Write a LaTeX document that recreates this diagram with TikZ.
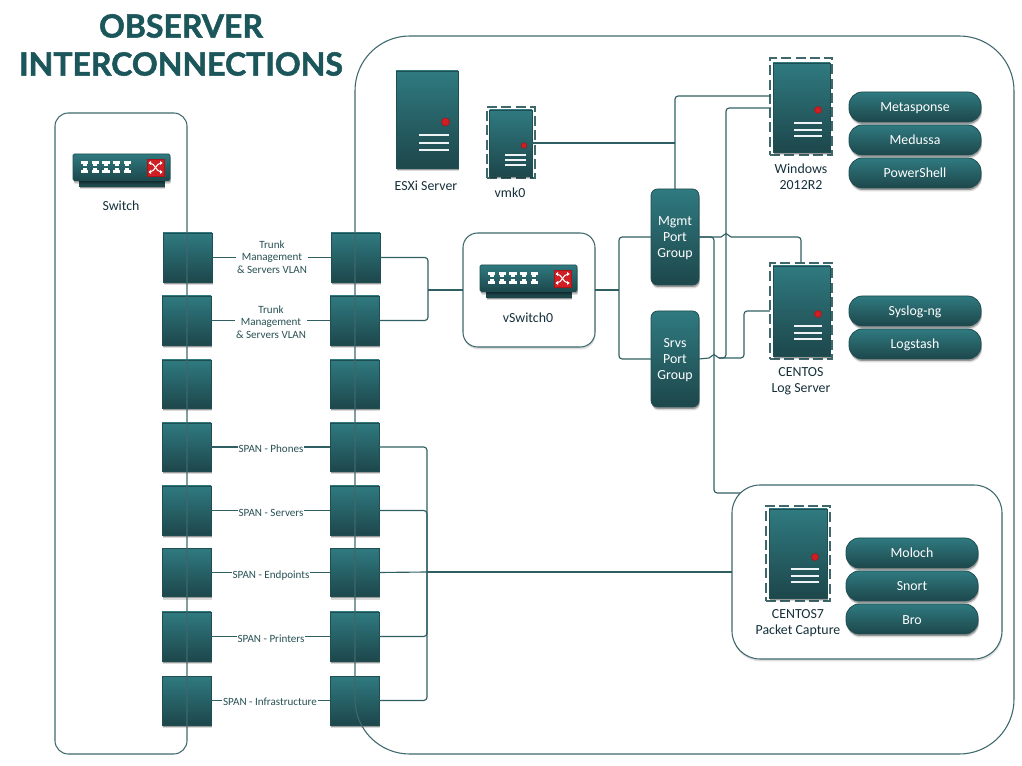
\documentclass[tikz,border=0pt]{standalone}
\usepackage{fontspec}
\setmainfont{Carlito}
\newfontfamily\titlefont{Lato}[BoldFeatures={FakeBold=1.6}]
\usetikzlibrary{shadows}
\definecolor{tealtop}{HTML}{2F7A80}
\definecolor{tealbot}{HTML}{1D474B}
\definecolor{tealedge}{HTML}{1E4E52}
\definecolor{wirecol}{HTML}{2F5F63}
\definecolor{panelcol}{HTML}{3E686C}
\definecolor{titlecol}{HTML}{1B565B}
\definecolor{labelcol}{HTML}{15303A}
\definecolor{redtop}{HTML}{CF1F25}
\definecolor{redbot}{HTML}{A81418}
\tikzset{
  softshadow/.style={
    drop shadow={shadow xshift=0.7pt,shadow yshift=-2.6pt,opacity=.14,fill=black},
    drop shadow={shadow xshift=0.5pt,shadow yshift=-1.5pt,opacity=.30,fill=black}},
  tealbox/.style={draw=tealedge,line width=.6pt,top color=tealtop,bottom color=tealbot,softshadow,inner sep=0pt,outer sep=0pt,text=white,align=center,font=\fontsize{10.4pt}{12pt}\selectfont},
  portbox/.style={tealbox,rectangle},
  groupbox/.style={tealbox,rounded corners=5pt},
  pillbox/.style={tealbox,rounded corners=10pt,text height=9.5pt,text depth=2pt},
  dashbox/.style={draw=panelcol,dash pattern=on 7.5pt off 3.2pt,line width=1pt,inner sep=0pt,outer sep=0pt},
  panelbox/.style={draw=panelcol,line width=.8pt,inner sep=0pt,outer sep=0pt},
  whitebox/.style={panelbox,fill=white,drop shadow={shadow xshift=0.4pt,shadow yshift=-1.8pt,opacity=.12,fill=black}},
  wire/.style={draw=wirecol,line width=.85pt,rounded corners=2.4pt},
  hopwire/.style={draw=wirecol,line width=.85pt},
  lbl/.style={text=labelcol,align=center,inner sep=0pt,outer sep=0pt,font=\fontsize{10.4pt}{12pt}\selectfont},
  linklbl/.style={text=wirecol!85!black,align=center,fill=white,inner sep=.6pt,outer sep=0pt,font=\fontsize{8.3pt}{9.5pt}\selectfont},
  titletext/.style={text=titlecol,inner sep=0pt,font=\titlefont\fontsize{24pt}{28pt}\selectfont\bfseries},
  reddot/.style={fill=redtop,draw=redbot,line width=.4pt},
  ledline/.style={draw=white!92!tealtop,line width=1.1pt},
}
% name x1 y1 x2 y2 style text
\newcommand\nd[7]{\node[#6,minimum width={(#4-#2)*0.75pt},minimum height={(#5-#3)*0.75pt},at={({(#2+#4)/2},{(#3+#5)/2})}] (#1) {#7};}
% dotx doty r x1 x2 y1 y2 y3
\newcommand\srvdeco[8]{\fill[reddot] (#1,#2) circle[radius=#3*0.75pt];
  \draw[ledline] (#4,#6) -- (#5,#6) (#4,#7) -- (#5,#7) (#4,#8) -- (#5,#8);}
% name x y : icon origin is the top left corner of the body
\newcommand\swicon[3]{\begin{scope}[shift={(#2,#3)}]
  \nd{#1base}{6}{24}{91}{32}{tealbox,draw=tealbot,top color=tealbot,bottom color=tealbot}{}
  \nd{#1}{0}{0}{97}{26.5}{tealbox,rounded corners=1pt}{}
  \foreach \pa in {8,18.6,29.3,40,50.7}{
    \fill[white] (\pa,7) rectangle ++(7.2,3);
    \fill[white] (\pa+1.5,10) rectangle ++(4.2,2);
    \fill[white] (\pa+1.5,14) rectangle ++(4.2,2);
    \fill[white] (\pa,16) rectangle ++(7.2,3);
  }
  \nd{#1x}{74}{5}{91}{22}{draw=redbot,fill=redtop,line width=.4pt,inner sep=0pt}{}
  \draw[white,line width=.8pt,rounded corners=1.5pt] (76,9) -- (79,9) -- (86,18) -- (89,18);
  \draw[white,line width=.8pt,rounded corners=1.5pt] (76,18) -- (79,18) -- (86,9) -- (89,9);
  \fill[white] (89.5,9) -- (87,7) -- (87,11) -- cycle;
  \fill[white] (89.5,18) -- (87,16) -- (87,20) -- cycle;
  \fill[white] (75.5,9) -- (78,7) -- (78,11) -- cycle;
  \fill[white] (75.5,18) -- (78,16) -- (78,20) -- cycle;
\end{scope}}
\begin{document}
\begin{tikzpicture}[x=0.75pt,y=-0.75pt]
\useasboundingbox (0,0) rectangle (1022,766);

% title
\node[titletext] (t1) at (181,26) {OBSERVER};
\node[titletext] (t2) at (181,64) {INTERCONNECTIONS};

% ports
\nd{pla}{163}{233}{212}{282}{portbox}{}
\nd{plb}{162}{296}{211}{345}{portbox}{}
\nd{plc}{162}{360}{211}{408}{portbox}{}
\nd{pld}{162}{423}{211}{471}{portbox}{}
\nd{ple}{162}{486}{211}{535}{portbox}{}
\nd{plf}{162}{548.5}{211}{596.5}{portbox}{}
\nd{plg}{162}{612}{211}{661}{portbox}{}
\nd{plh}{162}{676}{211}{725}{portbox}{}
\nd{pra}{331}{233}{380}{282}{portbox}{}
\nd{prb}{330}{296}{379}{345}{portbox}{}
\nd{prc}{330}{360}{379}{408}{portbox}{}
\nd{prd}{330}{423}{379}{471}{portbox}{}
\nd{pre}{330}{486}{379}{535}{portbox}{}
\nd{prf}{330}{548.5}{379}{596.5}{portbox}{}
\nd{prg}{330}{612}{379}{661}{portbox}{}
\nd{prh}{330}{676}{379}{725}{portbox}{}

% large panels
\nd{swpanel}{55}{113}{187}{754}{panelbox,rounded corners=10pt}{}
\nd{esxpanel}{355}{36}{1014}{754}{panelbox,rounded corners=41pt}{}

% vSwitch group box
\nd{vswbox}{463}{233}{595}{347}{whitebox,rounded corners=11pt}{}

% servers
\nd{esx}{396}{71}{458}{168}{portbox}{}
\srvdeco{445.5}{122}{4}{419}{449}{135}{143}{150}
\nd{vmkd}{487}{107}{535}{178}{dashbox}{}
\nd{vmk}{489.5}{110}{532}{176}{portbox}{}
\srvdeco{524}{145.5}{2.8}{505}{526}{155}{160}{165}
\nd{wind}{770}{58}{832}{155}{dashbox}{}
\nd{win}{773}{63}{830}{152}{portbox}{}
\srvdeco{818}{110}{3.5}{794}{822}{123}{130}{136}
\nd{logd}{770}{263}{832}{359}{dashbox}{}
\nd{logs}{773}{266}{830}{356}{portbox}{}
\srvdeco{818}{314}{3.5}{794}{822}{326}{333}{339}

% port groups
\nd{mgmt}{651}{189}{699}{285}{groupbox}{\rule{0pt}{8.6pt}Mgmt\\Port\\Group}
\nd{srvs}{651}{311}{699}{407}{groupbox}{\rule{0pt}{8.6pt}Srvs\\Port\\Group}

% connector junctions
\coordinate (busa) at (428,290);
\coordinate (busb) at (427,572);
\coordinate (busc) at (619,290);
\coordinate (busd) at (675,143);
\coordinate (wina) at (771,96);
\coordinate (winb) at (771,108);
\coordinate (pkta) at (745,493);
\coordinate (hopa) at (731,237);
\coordinate (hopb) at (719,358);

% connectors
\foreach \ra in {a,b,d,e,f,g,h}{\draw[wire] (pl\ra.east) -- (pr\ra.west);}
\draw[wire] (pra.east) -| (busa) |- (prb.east);
\draw[wire] (busa) -- (vswbox.west);
\draw[wire] (prd.east) -| (busb) |- (prh.east);
\draw[wire] (pre.east) -| (busb) |- (prg.east);
\draw[wire] (prf.east) -- (busb);
\draw[wire] (vswbox.east) -- (busc);
\draw[wire] (mgmt.west) -| (busc) |- (srvs.west);
\draw[wire] (vmk.east) -- (busd);
\draw[wire] (mgmt.north) |- (wina);
% Mgmt to CENTOS log server, hopping over the riser at x=726
\draw[hopwire] (mgmt.east) -- (721,237) .. controls (723,237) and (724,233.5) .. (726,233.5) .. controls (728,233.5) and (729,237) .. (hopa);
\draw[wire] (hopa) -| (logd.north);
% Mgmt to packet capture
\draw[wire] (mgmt.east) -| (714,493) -- (pkta);
% Srvs to CENTOS log server, hopping over x=714
\draw[hopwire] (srvs.east) -- (709,358) .. controls (711,358) and (712,354.5) .. (714,354.5) .. controls (716,354.5) and (717,358) .. (hopb);
\draw[wire] (hopb) -- (744,358) |- (logd.west);
% Srvs to Windows
\draw[wire] (hopb) -- (726,358) |- (winb);

% packet capture group
\nd{pktbox}{732}{485}{1002}{659}{whitebox,rounded corners=21pt}{}
\draw[wire] (busb) -- (pktbox.west);
\nd{pktd}{766}{506}{830}{601}{dashbox}{}
\nd{pkt}{769}{509}{827}{598}{portbox}{}
\srvdeco{815}{557}{3.5}{791}{819}{569}{576}{582}

% switches
\swicon{sw}{73}{154}
\swicon{vsw}{480}{265}

% pills
\nd{pa}{849}{92}{981}{122}{pillbox}{Metasponse}
\nd{pb}{849}{125}{981}{155}{pillbox}{Medussa}
\nd{pc}{849}{158}{981}{188}{pillbox}{PowerShell}
\nd{pd}{849}{296}{981}{326}{pillbox}{Syslog-ng}
\nd{pe}{849}{329}{981}{359}{pillbox}{Logstash}
\nd{pf}{846}{538}{978}{568}{pillbox}{Moloch}
\nd{pg}{846}{571}{978}{601}{pillbox}{Snort}
\nd{ph}{846}{604}{978}{634}{pillbox}{Bro}

% labels
\node[lbl] (lsw) at (121,206) {Switch};
\node[lbl] (lesx) at (426,186) {ESXi Server};
\node[lbl] (lvmk) at (510,192.5) {vmk0};
\node[lbl] (lvsw) at (528,317.5) {vSwitch0};
\node[lbl] (lwin) at (801,177) {Windows\\2012R2};
\node[lbl] (llog) at (801,381) {CENTOS\\Log Server};
\node[lbl] (lpkt) at (798,623) {CENTOS7\\Packet Capture};

\node[linklbl] (ta) at (272,257) {Trunk\\Management\\\& Servers VLAN};
\node[linklbl] (tb) at (271,322) {Trunk\\Management\\\& Servers VLAN};
\node[linklbl] (td) at (271,449) {SPAN - Phones};
\node[linklbl] (te) at (271,513) {SPAN - Servers};
\node[linklbl] (tf) at (271,576) {SPAN - Endpoints};
\node[linklbl] (tg) at (271,639) {SPAN - Printers};
\node[linklbl] (th) at (270,702) {SPAN - Infrastructure};
\end{tikzpicture}
\end{document}
